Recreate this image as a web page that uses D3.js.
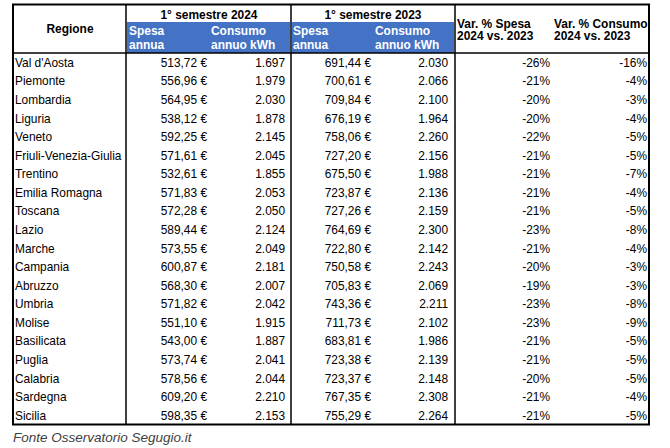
<!DOCTYPE html>
<html><head><meta charset="utf-8">
<script src="https://cdn.jsdelivr.net/npm/d3@7"></script>
<style>html,body{margin:0;padding:0;background:#fff}svg{display:block}</style>
</head><body>
<script>
const regions = ["Val d'Aosta","Piemonte","Lombardia","Liguria","Veneto","Friuli-Venezia-Giulia","Trentino","Emilia Romagna","Toscana","Lazio","Marche","Campania","Abruzzo","Umbria","Molise","Basilicata","Puglia","Calabria","Sardegna","Sicilia"];
const spesa2024 = [513.72,556.96,564.95,538.12,592.25,571.61,532.61,571.83,572.28,589.44,573.55,600.87,568.30,571.82,551.10,543.00,573.74,578.56,609.20,598.35];
const consumo2024 = [1697,1979,2030,1878,2145,2045,1855,2053,2050,2124,2049,2181,2007,2042,1915,1887,2041,2044,2210,2153];
const spesa2023 = [691.44,700.61,709.84,676.19,758.06,727.20,675.50,723.87,727.26,764.69,722.80,750.58,705.83,743.36,711.73,683.81,723.38,723.37,767.35,755.29];
const consumo2023 = [2030,2066,2100,1964,2260,2156,1988,2136,2159,2300,2142,2243,2069,2211,2102,1986,2139,2148,2308,2264];
const varSpesa = [-26,-21,-20,-20,-22,-21,-21,-21,-21,-23,-21,-20,-19,-23,-23,-21,-21,-20,-21,-21];
const varConsumo = [-16,-4,-3,-4,-5,-5,-7,-4,-5,-8,-4,-3,-3,-8,-9,-5,-5,-5,-4,-5];
const groupLabels = ["1° semestre 2024","1° semestre 2023"];
const subLabels = [["Spesa","annua"],["Consumo","annuo kWh"]];
const varLabels = [["Var. % Spesa","2024 vs. 2023"],["Var. % Consumo","2024 vs. 2023"]];
const source = "Fonte Osservatorio Segugio.it";

const W=670,H=448;
const svg=d3.select("body").append("svg").attr("width",W).attr("height",H);
const font="'Liberation Sans', Arial, sans-serif";
const fs=11.9, hfs=11.95;
const L=13,R=649,T=4.5,HB=53,B=424.5;
const blue="#4472C4";

const y=d3.scaleBand().domain(regions).range([HB,B]);
const loc=d3.formatLocale({decimal:",",thousands:".",grouping:[3],currency:["",""]});
const eur=v=>loc.format(",.2f")(v)+" €";
const kwh=v=>loc.format(",d")(v);
const pct=v=>v+"%";

svg.append("rect").attr("x",127).attr("y",22).attr("width",163).attr("height",31).attr("fill",blue);
svg.append("rect").attr("x",292).attr("y",22).attr("width",162).attr("height",31).attr("fill",blue);

const txt=(x,yy,s,opt={})=>svg.append("text").attr("x",x).attr("y",yy).text(s)
  .attr("font-family",font).attr("font-size",opt.size||hfs)
  .attr("font-weight",opt.bold?"bold":"normal").attr("font-style",opt.italic?"italic":"normal")
  .attr("fill",opt.fill||"#000").attr("text-anchor",opt.anchor||"start");

txt(70,33,"Regione",{bold:true,anchor:"middle"});
txt(209,18.8,groupLabels[0],{bold:true,anchor:"middle"});
txt(373,18.8,groupLabels[1],{bold:true,anchor:"middle"});
txt(129,35,subLabels[0][0],{bold:true,fill:"#fff"});
txt(129,49,subLabels[0][1],{bold:true,fill:"#fff"});
txt(211,35,subLabels[1][0],{bold:true,fill:"#fff"});
txt(211,49,subLabels[1][1],{bold:true,fill:"#fff"});
txt(293,35,subLabels[0][0],{bold:true,fill:"#fff"});
txt(293,49,subLabels[0][1],{bold:true,fill:"#fff"});
txt(375,35,subLabels[1][0],{bold:true,fill:"#fff"});
txt(375,49,subLabels[1][1],{bold:true,fill:"#fff"});
txt(457,27.5,varLabels[0][0],{bold:true});
txt(457,40,varLabels[0][1],{bold:true});
txt(554,27.5,varLabels[1][0],{bold:true});
txt(554,40,varLabels[1][1],{bold:true});

const cols=[
  {vals:regions,x:15,anchor:"start",f:d=>d},
  {vals:spesa2024,x:207,anchor:"end",f:eur},
  {vals:consumo2024,x:285,anchor:"end",f:kwh},
  {vals:spesa2023,x:371,anchor:"end",f:eur},
  {vals:consumo2023,x:448,anchor:"end",f:kwh},
  {vals:varSpesa,x:550,anchor:"end",f:pct},
  {vals:varConsumo,x:647,anchor:"end",f:pct}
];
cols.forEach(c=>{
  svg.append("g").selectAll("text").data(c.vals).join("text")
    .attr("x",c.x).attr("y",(d,i)=>y(regions[i])+y.bandwidth()/2+4.5)
    .attr("text-anchor",c.anchor).attr("font-family",font).attr("font-size",fs)
    .attr("fill","#000").text(c.f);
});

const line=(x1,y1,x2,y2,w)=>svg.append("line").attr("x1",x1).attr("y1",y1).attr("x2",x2).attr("y2",y2)
  .attr("stroke","#000").attr("stroke-width",w);
svg.append("rect").attr("x",L).attr("y",T).attr("width",R-L).attr("height",B-T).attr("fill","none").attr("stroke","#000").attr("stroke-width",2);
line(L,HB,R,HB,1.5);
[126,291,455].forEach(x=>line(x,T,x,B,1.5));

txt(13,442,source,{italic:true,size:13.5,fill:"#404040"});
</script>
</body></html>
